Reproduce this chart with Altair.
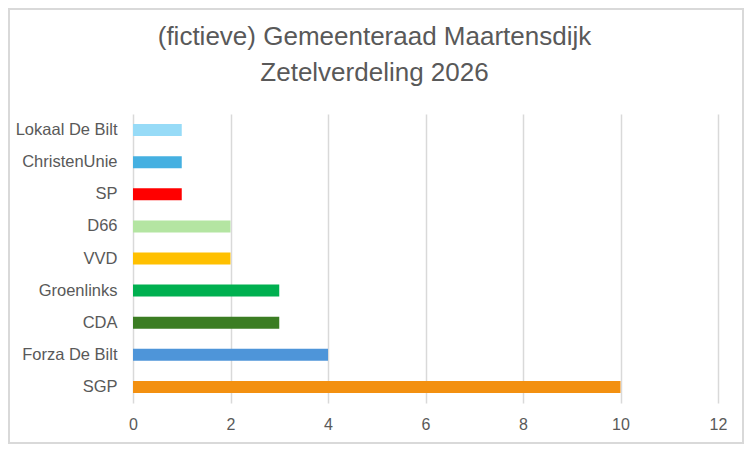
import altair as alt
import pandas as pd

# Zetelverdeling (fictief), van boven naar beneden zoals in de grafiek
PARTIJEN = [
    "Lokaal De Bilt",
    "ChristenUnie",
    "SP",
    "D66",
    "VVD",
    "Groenlinks",
    "CDA",
    "Forza De Bilt",
    "SGP",
]
ZETELS = [1, 1, 1, 2, 2, 3, 3, 4, 10]
KLEUREN = [
    "#97dbf7",
    "#45b0e1",
    "#ff0000",
    "#b4e5a2",
    "#ffc000",
    "#00b050",
    "#3b7d23",
    "#4e95d9",
    "#f39010",
]
X_TICKS = [0, 2, 4, 6, 8, 10, 12]
TITEL = ["(fictieve) Gemeenteraad Maartensdijk", "Zetelverdeling 2026"]

TEKST = "#595959"
GRID = "#d9d9d9"
FONT = "Liberation Sans"

data = pd.DataFrame({"partij": PARTIJEN, "zetels": ZETELS, "kleur": KLEUREN})

W, H = 585, 289
PAD = {"left": 125, "top": 106, "right": 26, "bottom": 41}

y = alt.Y(
    "partij:N",
    sort=PARTIJEN,
    title=None,
    scale=alt.Scale(paddingInner=0, paddingOuter=0),
    axis=alt.Axis(
        domain=False,
        ticks=False,
        grid=False,
        labelFont=FONT,
        labelFontSize=16.5,
        labelColor=TEKST,
        labelPadding=16,
    ),
)
x = alt.X(
    "zetels:Q",
    title=None,
    scale=alt.Scale(domain=[0, 12], nice=False),
    axis=alt.Axis(
        values=X_TICKS,
        domain=False,
        ticks=False,
        grid=True,
        gridColor=GRID,
        gridWidth=1.5,
        labelFlush=False,
        labelFont=FONT,
        labelFontSize=16,
        labelColor=TEKST,
        labelPadding=13,
    ),
)

bars = alt.Chart(data).mark_bar(size=12).encode(
    y=y,
    x=x,
    color=alt.Color("kleur:N", scale=None, legend=None),
)

# rand om het hele grafiekgebied
rand = alt.Chart(data).mark_rect(fill=None, stroke=GRID, strokeWidth=1.5).encode(
    x=alt.value(-PAD["left"] + 1),
    x2=alt.value(W + PAD["right"] - 1),
    y=alt.value(-PAD["top"] + 1),
    y2=alt.value(H + PAD["bottom"] - 1),
)

chart = (
    (rand + bars)
    .properties(
        width=W,
        height=H,
        padding=PAD,
        background="white",
        autosize=alt.AutoSizeParams(type="none"),
        title=alt.TitleParams(
            TITEL,
            font=FONT,
            fontSize=26,
            fontWeight="normal",
            color=TEKST,
            lineHeight=35.5,
            anchor="middle",
            dx=-51,
            offset=-77.5,
        ),
    )
    .configure_view(stroke="transparent")
)

chart.save("out.html", embed_options={"renderer": "svg", "actions": False})
